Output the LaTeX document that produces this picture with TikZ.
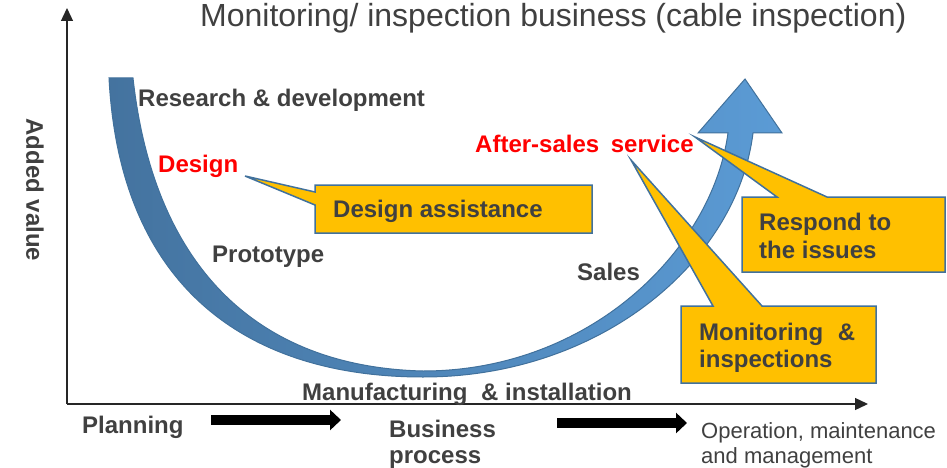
\documentclass[tikz,border=0pt]{standalone}
\usepackage{fontspec}
\setmainfont{Liberation Sans}
\usetikzlibrary{arrows.meta}
\definecolor{txt}{HTML}{404040}
\definecolor{callfill}{HTML}{FFC000}
\definecolor{callline}{HTML}{41719C}
\definecolor{bandL}{HTML}{44739F}
\definecolor{bandR}{HTML}{5B9BD5}
\definecolor{redtxt}{HTML}{FF0000}
\tikzset{
  lbl/.style={anchor=base west, inner sep=0pt, text=txt, font=\fontsize{24}{28}\selectfont\bfseries},
  reglbl/.style={anchor=base west, inner sep=0pt, text=txt, font=\fontsize{22}{26}\selectfont},
  axisline/.style={line width=1.3pt, draw=black!85, -{Triangle[length=13pt,width=12pt]}},
  procarrow/.style={line width=10pt, draw=black, -{Triangle[length=11pt,width=20pt]}},
  callout/.style={fill=callfill, draw=callline, line width=1.5pt, line join=miter},
  band/.style={left color=bandL, right color=bandR, draw=callline, line width=1pt}
}
\begin{document}
\begin{tikzpicture}[x=1pt,y=-1pt]
\useasboundingbox (0,0) rectangle (947,468);
% axes
\coordinate (O) at (67,404);
\coordinate (Ytop) at (67,8);
\coordinate (Xend) at (868,404);
\draw[axisline] (O) -- (Ytop);
\draw[axisline] (O) -- (Xend);
% U-shaped band arrow
\shadedraw[band]
 (109,78) .. controls (120,290) and (250,377) .. (423,377)
 .. controls (600,377) and (737,262) .. (753,133)
 -- (782,133) -- (745,79) -- (698,133) -- (728,133)
 .. controls (712,250) and (590,371) .. (423,371)
 .. controls (258,367) and (154,268) .. (133,78) -- cycle;
% title
\node[anchor=base west, inner sep=0pt, text=txt, font=\fontsize{32}{37}\selectfont] (title) at (200,27) {Monitoring/ inspection business (cable inspection)};
% labels
\node[lbl] (rd) at (138,107) {Research \& development};
\node[lbl, text=redtxt] (design) at (158,172) {Design};
\node[lbl] (proto) at (212,262) {Prototype};
\node[lbl, text=redtxt] (after) at (475,153) {After-sales\hspace{5pt} service};
\node[lbl] (sales) at (577,280) {Sales};
\node[lbl] (manu) at (302,400) {Manufacturing\hspace{7pt} \& installation};
\node[lbl] (plan) at (82,433) {Planning};
\node[lbl] (bus1) at (389,437) {Business};
\node[lbl] (bus2) at (389,463) {process};
\node[reglbl] (op1) at (701,438) {Operation, maintenance};
\node[reglbl] (op2) at (701,463) {and management};
\node[lbl, anchor=center, rotate=-90] (av) at (35,190) {Added value};
% process arrows
\coordinate (a1s) at (211,420);
\coordinate (a1e) at (341,420);
\coordinate (a2s) at (557,423);
\coordinate (a2e) at (687,423);
\draw[procarrow] (a1s) -- (a1e);
\draw[procarrow] (a2s) -- (a2e);
% callouts
\draw[callout] (315,185) -- (592,185) -- (592,233) -- (315,233) -- (315,205) -- (245,176) -- (315,192) -- cycle;
\node[lbl] (da) at (333,217) {Design assistance};
\draw[callout] (742,197) -- (777,197) -- (695,137) -- (827,197) -- (945,197) -- (945,272) -- (742,272) -- cycle;
\node[lbl] (resp1) at (759,230) {Respond to};
\node[lbl] (resp2) at (759,258) {the issues};
\draw[callout] (681,306) -- (713,306) -- (631,160) -- (762,306) -- (876,306) -- (876,383) -- (681,383) -- cycle;
\node[lbl] (mon1) at (699,340) {Monitoring\hspace{8pt} \&};
\node[lbl] (mon2) at (699,367) {inspections};
\end{tikzpicture}
\end{document}
